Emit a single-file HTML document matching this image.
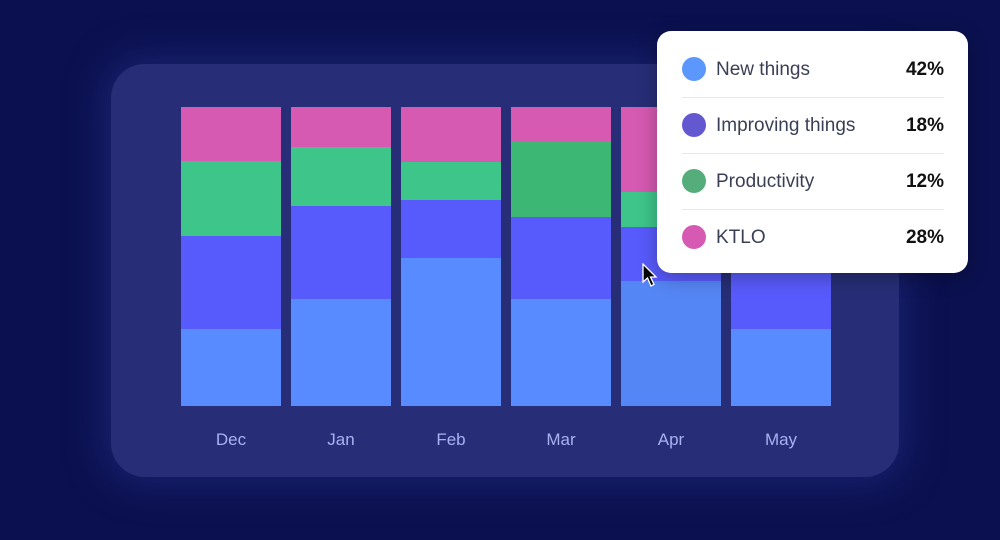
<!DOCTYPE html>
<html><head><meta charset="utf-8"><style>
*{margin:0;padding:0;box-sizing:border-box}
body{width:1000px;height:540px;background:#0b1150;position:relative;overflow:hidden;font-family:"Liberation Sans",sans-serif}
.panel{position:absolute;left:111px;top:64px;width:788px;height:413px;border-radius:34px;background:#272e77;box-shadow:0 0 36px 8px rgba(40,50,140,.5)}
.bar{position:absolute;width:100px}
.seg{position:absolute;left:0;width:100px}
.b{background:#588bff}.p{background:#585bfc}.g{background:#3ec68a}.k{background:#d65ab2}
.lbl{position:absolute;top:430px;width:100px;text-align:center;color:#aab0f0;font-size:17px}
.tip{position:absolute;left:657px;top:31px;width:311px;height:242px;background:#fff;border-radius:14px;box-shadow:0 4px 20px rgba(0,0,0,.3)}
.row{position:absolute;left:25px;width:262px;height:56px}
.dot{position:absolute;left:0;top:16px;width:24px;height:24px;border-radius:50%}
.name{position:absolute;left:34px;top:18px;font-size:19px;color:#3b3f55}
.pct{position:absolute;right:0;top:18px;font-size:19px;font-weight:bold;color:#111}
.div{position:absolute;left:25px;width:262px;height:1px;background:#e4e7f0}
</style></head><body>
<div class="panel"></div>
<div class="bar" style="left:181px;top:0"><div class="seg k" style="top:107px;height:54px"></div><div class="seg g" style="top:161px;height:75px"></div><div class="seg p" style="top:236px;height:93px"></div><div class="seg b" style="top:329px;height:77px"></div></div>
<div class="bar" style="left:291px;top:0"><div class="seg k" style="top:107px;height:40px"></div><div class="seg g" style="top:147px;height:59px"></div><div class="seg p" style="top:206px;height:93px"></div><div class="seg b" style="top:299px;height:107px"></div></div>
<div class="bar" style="left:401px;top:0"><div class="seg k" style="top:107px;height:55px"></div><div class="seg g" style="top:162px;height:38px"></div><div class="seg p" style="top:200px;height:58px"></div><div class="seg b" style="top:258px;height:148px"></div></div>
<div class="bar" style="left:511px;top:0"><div class="seg k" style="top:107px;height:34px"></div><div class="seg g" style="top:141px;height:76px;background:#3db874"></div><div class="seg p" style="top:217px;height:82px"></div><div class="seg b" style="top:299px;height:107px"></div></div>
<div class="bar" style="left:621px;top:0"><div class="seg k" style="top:107px;height:85px"></div><div class="seg g" style="top:192px;height:35px"></div><div class="seg p" style="top:227px;height:54px"></div><div class="seg b" style="top:281px;height:125px;background:#5586f5"></div></div>
<div class="bar" style="left:731px;top:0"><div class="seg k" style="top:107px;height:53px"></div><div class="seg g" style="top:160px;height:70px"></div><div class="seg p" style="top:230px;height:99px"></div><div class="seg b" style="top:329px;height:77px"></div></div>
<div class="lbl" style="left:181px">Dec</div><div class="lbl" style="left:291px">Jan</div><div class="lbl" style="left:401px">Feb</div><div class="lbl" style="left:511px">Mar</div><div class="lbl" style="left:621px">Apr</div><div class="lbl" style="left:731px">May</div>
<div class="tip">
<div class="row" style="top:10px"><div class="dot" style="background:#5b97fd"></div><div class="name">New things</div><div class="pct">42%</div></div>
<div class="div" style="top:66px"></div>
<div class="row" style="top:66px"><div class="dot" style="background:#6358d0"></div><div class="name">Improving things</div><div class="pct">18%</div></div>
<div class="div" style="top:122px"></div>
<div class="row" style="top:122px"><div class="dot" style="background:#55ad7b"></div><div class="name">Productivity</div><div class="pct">12%</div></div>
<div class="div" style="top:178px"></div>
<div class="row" style="top:178px"><div class="dot" style="background:#d65ab2"></div><div class="name">KTLO</div><div class="pct">28%</div></div>
</div>
<svg style="position:absolute;left:642px;top:263px" width="18" height="26"><path d="M1 1 L1 19 L5.5 15 L9 23 L12 21.5 L8.5 14 L14 14 Z" fill="#000" stroke="#fff" stroke-width="1.3"/></svg>
</body></html>
